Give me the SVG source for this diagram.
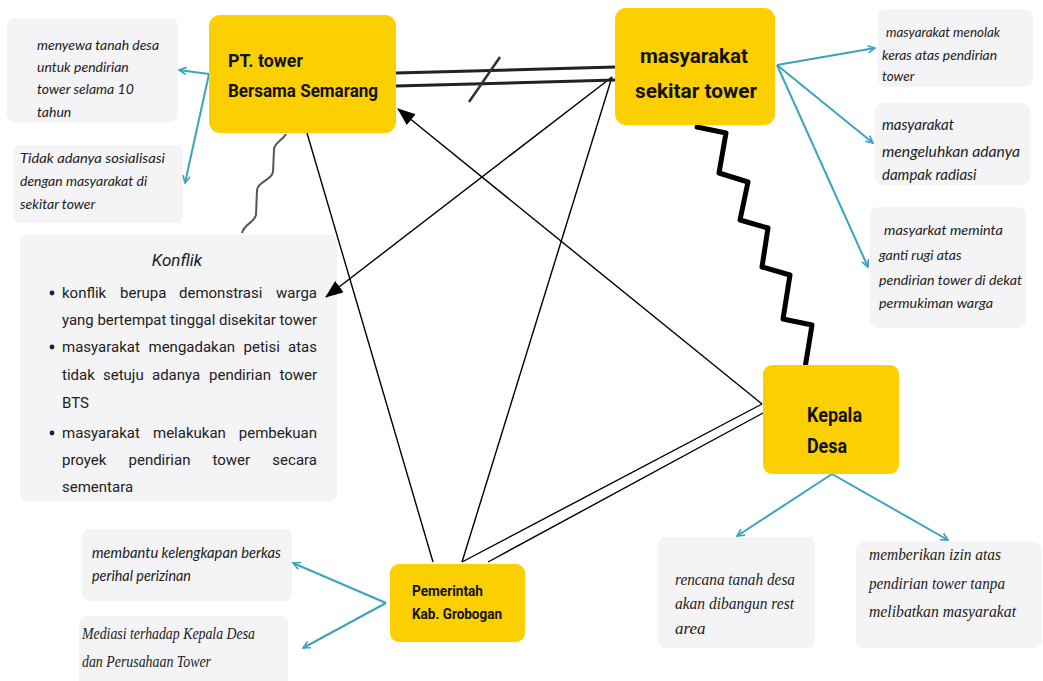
<svg xmlns="http://www.w3.org/2000/svg" width="1043" height="681" viewBox="0 0 1043 681">
<defs>
<style>
.node{fill:#FCD000}
.box{fill:#F4F3F5}
.nt{font-family:Roboto,"Liberation Sans",sans-serif;font-weight:700;fill:#111}
.it{font-family:Lato,"Open Sans",sans-serif;font-style:italic;fill:#222}
.tm{font-family:"Liberation Serif",serif;font-style:italic;fill:#222}
.kf{font-family:Roboto,"Liberation Sans",sans-serif;fill:#222;font-size:15px}
.ln{stroke:#000;stroke-width:1.4;fill:none}
.cy{stroke:#3AA3BF;stroke-width:2;fill:none;marker-end:url(#cya)}
</style>
<marker id="cya" viewBox="0 0 10 10" refX="9" refY="5" markerWidth="9" markerHeight="9" markerUnits="userSpaceOnUse" orient="auto"><path d="M1,1 L9,5 L1,9" fill="none" stroke="#3AA3BF" stroke-width="1.8"/></marker>
<marker id="bka" viewBox="0 0 18 14" refX="17" refY="7" markerWidth="18" markerHeight="14" markerUnits="userSpaceOnUse" orient="auto"><path d="M0,0 L18,7 L0,14 z" fill="#000"/></marker>
</defs>
<rect width="1043" height="681" fill="#fff"/>

<g id="note-sewa">
<rect class="box" x="7" y="18" width="171" height="104" rx="8"/>
<text class="it" font-size="14"><tspan x="37" y="50" textLength="122" lengthAdjust="spacingAndGlyphs">menyewa tanah desa</tspan><tspan x="37" y="72">untuk pendirian</tspan><tspan x="37" y="94">tower selama 10</tspan><tspan x="37" y="117">tahun</tspan></text>
</g>
<g id="note-sosialisasi">
<rect class="box" x="13" y="145" width="170" height="78" rx="8"/>
<text class="it" font-size="14"><tspan x="20" y="163" textLength="145" lengthAdjust="spacingAndGlyphs">Tidak adanya sosialisasi</tspan><tspan x="20" y="186">dengan masyarakat di</tspan><tspan x="20" y="209">sekitar tower</tspan></text>
</g>

<g id="note-konflik">
<rect class="box" x="20" y="235" width="317" height="267" rx="8"/>
<text x="177" y="266" text-anchor="middle" font-family="Roboto,'Liberation Sans',sans-serif" font-style="italic" font-size="17" fill="#222">Konflik</text>
<g fill="#222"><circle cx="52" cy="293" r="2.4"/><circle cx="52" cy="347" r="2.4"/><circle cx="52" cy="433" r="2.4"/></g>
<text class="kf" x="62" y="298">konflik</text>
<text class="kf" x="120" y="298">berupa</text>
<text class="kf" x="179" y="298">demonstrasi</text>
<text class="kf" x="317" y="298" text-anchor="end">warga</text>
<text class="kf" x="62" y="325" textLength="255" lengthAdjust="spacingAndGlyphs">yang bertempat tinggal disekitar tower</text>
<text class="kf" x="62" y="352">masyarakat</text>
<text class="kf" x="148.5" y="352">mengadakan</text>
<text class="kf" x="243.5" y="352">petisi</text>
<text class="kf" x="317" y="352" text-anchor="end">atas</text>
<text class="kf" x="62" y="380">tidak</text>
<text class="kf" x="103" y="380">setuju</text>
<text class="kf" x="152" y="380">adanya</text>
<text class="kf" x="209" y="380">pendirian</text>
<text class="kf" x="317" y="380" text-anchor="end">tower</text>
<text class="kf" x="62" y="408">BTS</text>
<text class="kf" x="62" y="438">masyarakat</text>
<text class="kf" x="153" y="438">melakukan</text>
<text class="kf" x="317" y="438" text-anchor="end">pembekuan</text>
<text class="kf" x="62" y="465">proyek</text>
<text class="kf" x="128.5" y="465">pendirian</text>
<text class="kf" x="212.5" y="465">tower</text>
<text class="kf" x="317" y="465" text-anchor="end">secara</text>
<text class="kf" x="62" y="492">sementara</text>
</g>

<g id="note-menolak">
<rect class="box" x="878" y="9" width="155" height="78" rx="8"/>
<text class="it" font-size="13.5"><tspan x="886" y="37" textLength="114" lengthAdjust="spacingAndGlyphs">masyarakat menolak</tspan><tspan x="882" y="60" textLength="115" lengthAdjust="spacingAndGlyphs">keras atas pendirian</tspan><tspan x="882" y="81">tower</tspan></text>
</g>
<g id="note-radiasi">
<rect class="box" x="875" y="103" width="155" height="82" rx="8"/>
<text class="it" font-size="15"><tspan x="882" y="130">masyarakat</tspan><tspan x="882" y="157" textLength="138" lengthAdjust="spacingAndGlyphs">mengeluhkan adanya</tspan><tspan x="882" y="180">dampak radiasi</tspan></text>
</g>
<g id="note-gantirugi">
<rect class="box" x="870" y="207" width="156" height="121" rx="8"/>
<text class="it" font-size="14"><tspan x="884" y="235" textLength="119" lengthAdjust="spacingAndGlyphs">masyarkat meminta</tspan><tspan x="879" y="260">ganti rugi atas</tspan><tspan x="879" y="285" textLength="143" lengthAdjust="spacingAndGlyphs">pendirian tower di dekat</tspan><tspan x="879" y="308" textLength="114" lengthAdjust="spacingAndGlyphs">permukiman warga</tspan></text>
</g>

<g id="note-berkas">
<rect class="box" x="82" y="529" width="210" height="72" rx="8"/>
<text class="it" font-size="14.5"><tspan x="92" y="558" textLength="189" lengthAdjust="spacingAndGlyphs">membantu kelengkapan berkas</tspan><tspan x="92" y="581" textLength="99" lengthAdjust="spacingAndGlyphs">perihal perizinan</tspan></text>
</g>
<g id="note-mediasi">
<rect class="box" x="79" y="616" width="209" height="72" rx="8"/>
<text class="tm" font-size="16.5"><tspan x="82" y="639" textLength="173" lengthAdjust="spacingAndGlyphs">Mediasi terhadap Kepala Desa</tspan><tspan x="82" y="667" textLength="129" lengthAdjust="spacingAndGlyphs">dan Perusahaan Tower</tspan></text>
</g>

<g id="note-restarea">
<rect class="box" x="658" y="537" width="157" height="111" rx="8"/>
<text class="tm" font-size="17"><tspan x="675" y="585" textLength="120" lengthAdjust="spacingAndGlyphs">rencana tanah desa</tspan><tspan x="675" y="609" textLength="119" lengthAdjust="spacingAndGlyphs">akan dibangun rest</tspan><tspan x="675" y="634">area</tspan></text>
</g>
<g id="note-izin">
<rect class="box" x="856" y="542" width="186" height="106" rx="8"/>
<text class="tm" font-size="17"><tspan x="869" y="560" textLength="132" lengthAdjust="spacingAndGlyphs">memberikan izin atas</tspan><tspan x="869" y="589" textLength="136" lengthAdjust="spacingAndGlyphs">pendirian tower tanpa</tspan><tspan x="869" y="617" textLength="147" lengthAdjust="spacingAndGlyphs">melibatkan masyarakat</tspan></text>
</g>

<g id="connectors">
<line class="ln" x1="307" y1="133" x2="433" y2="562"/>
<line class="ln" x1="612" y1="77" x2="462" y2="562"/>
<line class="ln" x1="612" y1="77" x2="326" y2="297" marker-end="url(#bka)"/>
<line class="ln" x1="762" y1="404" x2="398" y2="109" marker-end="url(#bka)"/>
<line class="ln" x1="762" y1="404" x2="462" y2="562"/>
<line class="ln" x1="763" y1="413" x2="488" y2="562"/>
<g stroke="#222" stroke-width="3" fill="none">
<line x1="396" y1="73" x2="615" y2="67"/>
<line x1="396" y1="86" x2="615" y2="80"/>
</g>
<line x1="469" y1="102" x2="500" y2="57" stroke="#333" stroke-width="2.5"/>
<path d="M286,134 C283,140 275,142 274,149 L273,172 C271,181 258,181 257,190 L256,215 C254,223 244,224 242,233" fill="none" stroke="#555" stroke-width="2"/>
<polyline points="697,127 726,133 719,173 748,182 740,220 768,228 762,267 790,275 783,319 812,325 805,368" fill="none" stroke="#000" stroke-width="5" stroke-linejoin="round" stroke-linecap="round"/>
<line class="cy" x1="209" y1="74" x2="179" y2="70"/>
<line class="cy" x1="209" y1="74" x2="185" y2="183"/>
<line class="cy" x1="777" y1="65" x2="875" y2="48"/>
<line class="cy" x1="777" y1="65" x2="873" y2="143"/>
<line class="cy" x1="777" y1="65" x2="868" y2="267"/>
<line class="cy" x1="832" y1="474" x2="737" y2="536"/>
<line class="cy" x1="832" y1="474" x2="948" y2="540"/>
<line class="cy" x1="386" y1="603" x2="293" y2="563"/>
<line class="cy" x1="386" y1="603" x2="303" y2="648"/>
</g>

<g id="node-pt">
<rect class="node" x="209" y="15" width="187" height="118" rx="11"/>
<text class="nt" font-size="19"><tspan x="228" y="67" textLength="75" lengthAdjust="spacingAndGlyphs">PT. tower</tspan><tspan x="228" y="97" textLength="150" lengthAdjust="spacingAndGlyphs">Bersama Semarang</tspan></text>
</g>
<g id="node-masyarakat">
<rect class="node" x="615" y="8" width="160" height="117" rx="11"/>
<text class="nt" font-size="21"><tspan x="640" y="63" textLength="108" lengthAdjust="spacingAndGlyphs">masyarakat</tspan><tspan x="635" y="98" textLength="122" lengthAdjust="spacingAndGlyphs">sekitar tower</tspan></text>
</g>
<g id="node-kepala">
<rect class="node" x="763" y="365" width="136" height="109" rx="9"/>
<text class="nt" font-size="20"><tspan x="807" y="422" textLength="55" lengthAdjust="spacingAndGlyphs">Kepala</tspan><tspan x="807" y="453" textLength="40" lengthAdjust="spacingAndGlyphs">Desa</tspan></text>
</g>
<g id="node-pemerintah">
<rect class="node" x="390" y="564" width="135" height="78" rx="9"/>
<text class="nt" font-size="14"><tspan x="412" y="596" textLength="71" lengthAdjust="spacingAndGlyphs">Pemerintah</tspan><tspan x="412" y="619" textLength="90" lengthAdjust="spacingAndGlyphs">Kab. Grobogan</tspan></text>
</g>
</svg>
